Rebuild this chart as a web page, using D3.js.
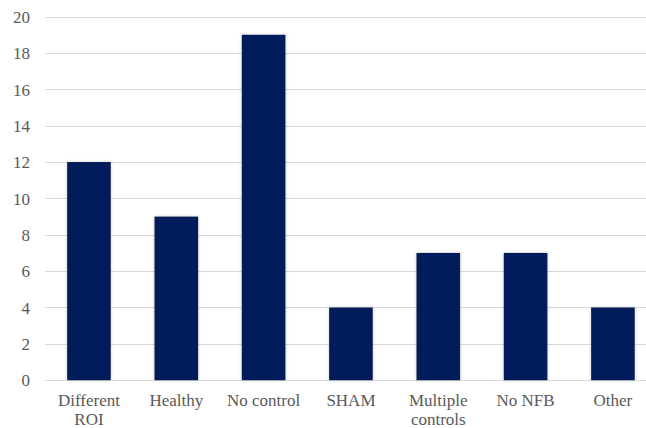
<!DOCTYPE html>
<html><head><meta charset="utf-8">
<script src="https://cdn.jsdelivr.net/npm/d3@7"></script>
</head>
<body style="margin:0">
<script>
const categories = [["Different","ROI"],["Healthy"],["No control"],["SHAM"],["Multiple","controls"],["No NFB"],["Other"]];
const values = [12, 9, 19, 4, 7, 7, 4];
const yTicks = [0,2,4,6,8,10,12,14,16,18,20];

const FONT = "Liberation Serif";
const W = 646, H = 428;
const svg = d3.select("body").append("svg").attr("width", W).attr("height", H)
  .attr("font-family", FONT).style("display", "block");

const defs = svg.append("defs");
const f = defs.append("filter").attr("id","sh").attr("x","-20%").attr("y","-20%").attr("width","140%").attr("height","140%");
f.append("feDropShadow").attr("dx",0).attr("dy",0).attr("stdDeviation",1.6).attr("flood-color","#7f7f7f").attr("flood-opacity",0.45);

const x = d3.scaleBand().domain(d3.range(categories.length)).range([45.3, 656.6]).paddingInner(0.5).paddingOuter(0.25);
const y = d3.scaleLinear().domain([0, 20]).range([380.2, 16.6]);

// gridlines
svg.append("g").selectAll("line").data(yTicks).join("line")
  .attr("x1", 45).attr("x2", 656.6)
  .attr("y1", d => Math.round(y(d)) + 0.5).attr("y2", d => Math.round(y(d)) + 0.5)
  .attr("stroke", "#d9d9d9").attr("stroke-width", 1.2);

// y labels
const yAxis = d3.axisLeft(y).tickValues(yTicks).tickSize(0).tickPadding(0);
const ga = svg.append("g").attr("transform", "translate(30,0)").call(yAxis);
ga.attr("font-family", FONT).attr("font-size", 17);
ga.select(".domain").remove();
ga.selectAll("text").attr("font-family", FONT).attr("font-size", 17).attr("fill", "#595959").attr("dy", "0.34em");

// bars
svg.append("g").selectAll("rect").data(values).join("rect")
  .attr("x", (d, i) => x(i)).attr("width", x.bandwidth())
  .attr("y", d => y(d)).attr("height", d => y(0) - y(d))
  .attr("fill", "#031b5a").attr("filter", "url(#sh)");

// x labels
const xl = svg.append("g").selectAll("text").data(categories).join("text")
  .attr("x", (d, i) => x(i) + x.bandwidth() / 2)
  .attr("y", 406.3)
  .attr("text-anchor", "middle")
  .attr("font-family", FONT).attr("font-size", 17).attr("fill", "#595959");
xl.selectAll("tspan").data(d => d).join("tspan")
  .attr("x", function() { return d3.select(this.parentNode).attr("x"); })
  .attr("dy", (d, i) => i === 0 ? 0 : 18.5)
  .attr("font-family", FONT)
  .text(d => d);
</script>
</body></html>
